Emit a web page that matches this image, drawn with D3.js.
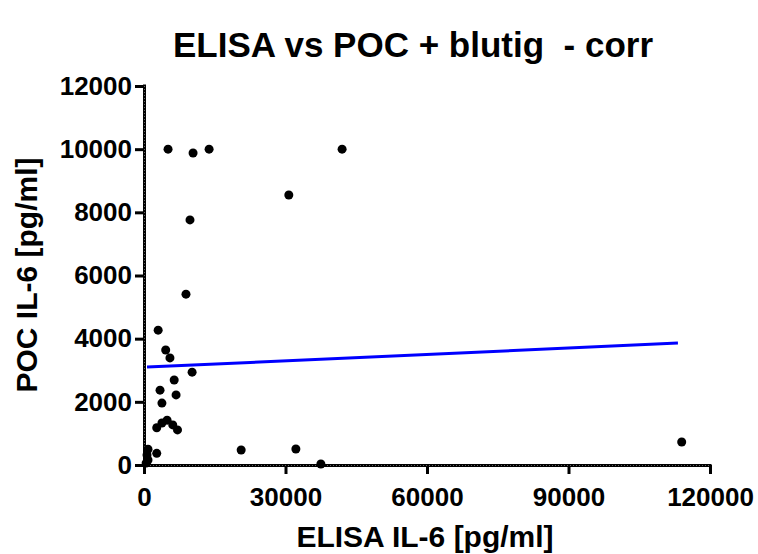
<!DOCTYPE html>
<html><head><meta charset="utf-8">
<script src="https://cdn.jsdelivr.net/npm/d3@7"></script>
<style>body{margin:0;background:#fff}svg{display:block}</style>
</head><body>
<svg id="c" width="758" height="554"></svg>
<script>
const title = "ELISA vs POC + blutig  - corr";
const xTitle = "ELISA IL-6 [pg/ml]";
const yTitle = "POC IL-6 [pg/ml]";
const xTicks = [0, 30000, 60000, 90000, 120000];
const yTicks = [0, 2000, 4000, 6000, 8000, 10000, 12000];
const elisa = [5100, 10400, 13800, 42000, 30700, 9750, 8900, 3000, 4600, 5500, 10200, 6400, 3400, 6800, 3800, 2700, 3800, 4900, 6100, 7100, 20600, 32200, 37500, 114000, 2700, 850, 640, 850, 450];
const poc   = [10000, 9880, 10000, 10000, 8550, 7760, 5410, 4270, 3640, 3390, 2940, 2690, 2370, 2220, 1960, 1180, 1330, 1420, 1270, 1110, 475, 507, 30, 730, 370, 500, 320, 160, 60];
const fitX = [640, 113200];
const fitY = [3100, 3860];

const svg = d3.select("#c");
const x = d3.scaleLinear().domain([0, 120000]).range([144, 710]);
const y = d3.scaleLinear().domain([0, 12000]).range([465, 86]);
const font = "'Liberation Sans', Arial, sans-serif";

svg.append("text").attr("x", 413).attr("y", 57).attr("text-anchor", "middle")
  .style("font-family", font).style("font-weight", "bold").style("font-size", "35px")
  .attr("xml:space", "preserve").text(title);

// axes
const xAxis = svg.append("g").attr("transform", "translate(0,465)")
  .call(d3.axisBottom(x).tickValues(xTicks).tickSize(9).tickSizeOuter(0).tickPadding(14).tickFormat(d3.format("d")));
const yAxis = svg.append("g").attr("transform", "translate(144,0)")
  .call(d3.axisLeft(y).tickValues(yTicks).tickSize(9).tickSizeOuter(0).tickPadding(3).tickFormat(d3.format("d")));
[xAxis, yAxis].forEach(g => {
  g.select(".domain").attr("stroke", "#000").attr("stroke-width", 3);
  g.selectAll(".tick line").attr("stroke", "#000").attr("stroke-width", 3);
  g.selectAll(".tick text").attr("fill", "#000").style("font-family", font)
    .style("font-weight", "bold").style("font-size", "26px");
});
xAxis.select(".domain").attr("d", `M${x(0)-1.5},0.5H${x(120000)+1.5}`);
yAxis.select(".domain").attr("d", `M0.5,${y(0)+1.5}V${y(12000)-1.5}`);
// subtle texture on axis lines
svg.append("line").attr("x1", x(0)).attr("x2", x(120000)).attr("y1", 465.5).attr("y2", 465.5)
  .attr("stroke", "#666").attr("stroke-width", 1).attr("stroke-dasharray", "1,2");
svg.append("line").attr("x1", 144.5).attr("x2", 144.5).attr("y1", y(0)).attr("y2", y(12000))
  .attr("stroke", "#666").attr("stroke-width", 1).attr("stroke-dasharray", "1,2");

// axis titles
svg.append("text").attr("x", 425).attr("y", 547).attr("text-anchor", "middle")
  .style("font-family", font).style("font-weight", "bold").style("font-size", "30px").text(xTitle);
svg.append("text").attr("transform", "translate(37,275) rotate(-90)").attr("text-anchor", "middle")
  .style("font-family", font).style("font-weight", "bold").style("font-size", "30px").text(yTitle);

// fit line
svg.append("line").attr("x1", x(fitX[0])).attr("x2", x(fitX[1]))
  .attr("y1", y(fitY[0])).attr("y2", y(fitY[1]))
  .attr("stroke", "#0000ff").attr("stroke-width", 3);

// points
svg.append("g").selectAll("circle").data(elisa.map((v, i) => [v, poc[i]])).join("circle")
  .attr("cx", d => x(d[0])).attr("cy", d => y(d[1])).attr("r", 4.5).attr("fill", "#000");
</script>
</body></html>
